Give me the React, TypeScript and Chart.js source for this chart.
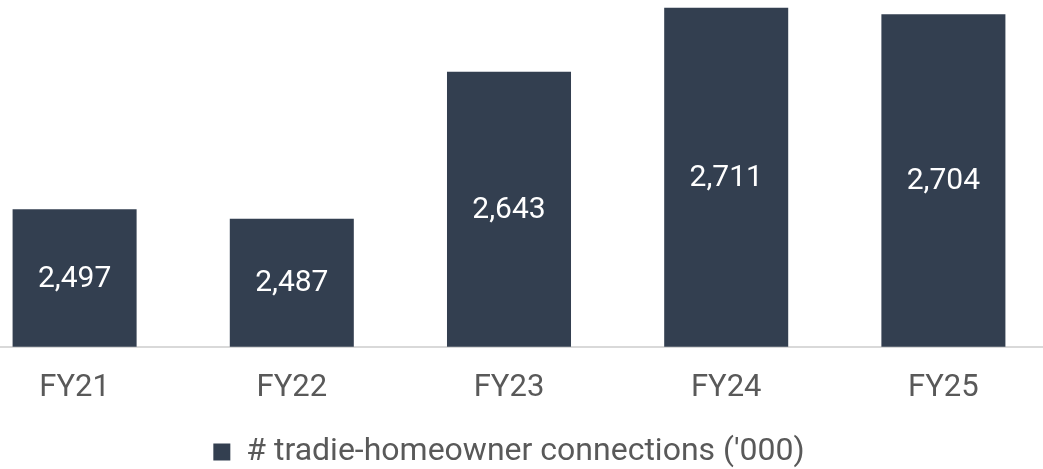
import React, { useEffect, useRef } from "react";
import { Chart, registerables } from "chart.js";

Chart.register(...registerables);

const categories = ["FY21", "FY22", "FY23", "FY24", "FY25"];
const connections = [2497, 2487, 2643, 2711, 2704];
const seriesLabel = "# tradie-homeowner connections ('000)";
const yMin = 2351;
const yMax = 2715;

const BAR_COLOR = "#333F50";
const TEXT_COLOR = "#595959";

const valueLabels = {
  id: "valueLabels",
  afterDraw(chart: any) {
    const ctx = chart.ctx as CanvasRenderingContext2D;
    const xs = chart.scales.x;
    const ys = chart.scales.y;
    const data = chart.data.datasets[0].data as number[];
    ctx.save();
    ctx.fillStyle = "#FFFFFF";
    ctx.font = "30px Roboto";
    ctx.textAlign = "center";
    ctx.textBaseline = "middle";
    data.forEach((v, i) => {
      const x = xs.getPixelForValue(i);
      const top = ys.getPixelForValue(v);
      const base = ys.getPixelForValue(yMin);
      const txt = String(v).replace(/\B(?=(\d{3})+(?!\d))/g, ",");
      ctx.fillText(txt, x, (top + base) / 2 + 1);
    });
    ctx.restore();
  },
};

export default function App() {
  const ref = useRef<HTMLCanvasElement>(null);
  useEffect(() => {
    if (!ref.current) return;
    const chart = new Chart(ref.current, {
      type: "bar",
      data: {
        labels: categories,
        datasets: [
          {
            label: seriesLabel,
            data: connections,
            backgroundColor: BAR_COLOR,
            borderWidth: 0,
            categoryPercentage: 1,
            barPercentage: 0.571,
          },
        ],
      },
      options: {
        animation: false,
        responsive: false,
        layout: { padding: { top: 4, left: 0, right: 0, bottom: 0 } },
        scales: {
          x: {
            grid: { display: false },
            border: { color: "#D9D9D9", width: 2 },
            ticks: {
              color: TEXT_COLOR,
              font: { family: "Roboto", size: 31 },
              padding: 15,
            },
          },
          y: {
            display: false,
            min: yMin,
            max: yMax,
          },
        },
        plugins: {
          legend: {
            position: "bottom",
            labels: {
              color: TEXT_COLOR,
              font: { family: "Roboto", size: 32 },
              boxWidth: 17,
              boxHeight: 17,
              padding: 14,
            },
          },
          tooltip: { enabled: false },
        },
      },
      plugins: [valueLabels],
    });
    return () => chart.destroy();
  }, []);
  return (
    <div style={{ position: "absolute", left: -34, top: 0, width: 1086, height: 478 }}>
      <canvas ref={ref} width={1086} height={478} />
    </div>
  );
}
